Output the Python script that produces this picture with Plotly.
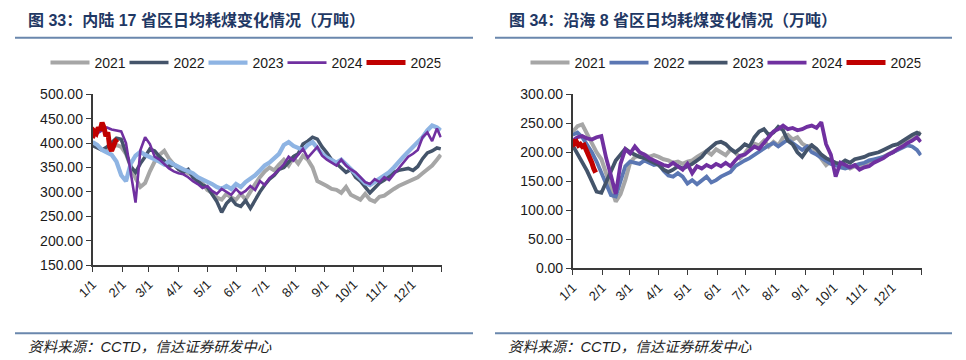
import plotly.graph_objects as go

W, H = 966, 360

# ---------------- data ----------------
DAYS = list(range(0, 361, 5)) + [364]
MONTH_TICKS = [0, 31, 59, 90, 120, 151, 181, 212, 243, 273, 304, 334, 365]
MONTH_LABELS = ["1/1", "2/1", "3/1", "4/1", "5/1", "6/1", "7/1", "8/1", "9/1", "10/1", "11/1", "12/1", ""]

# Chart 33: inland 17 provinces (10k t/day)
L21 = [398, 392, 386, 384, 390, 396, 392, 378, 352, 328, 310, 318, 342, 362, 376, 384, 368, 356, 350, 346,
       338, 334, 322, 318, 304, 298, 288, 284, 296, 288, 284, 296, 284, 302, 316, 330, 342, 350, 344, 356,
       366, 354, 370, 358, 374, 366, 350, 322, 318, 312, 306, 304, 298, 310, 294, 288, 284, 296, 284, 280,
       290, 292, 300, 306, 312, 316, 320, 326, 330, 338, 346, 354, 366, 376]
L22 = [395, 390, 386, 392, 402, 410, 408, 382, 352, 340, 358, 372, 388, 384, 372, 364, 352, 356, 346, 340,
       346, 330, 322, 314, 310, 296, 280, 258, 276, 286, 274, 270, 282, 266, 284, 300, 314, 326, 334, 346,
       350, 362, 372, 378, 398, 404, 412, 408, 392, 380, 366, 358, 348, 340, 346, 330, 322, 310, 298, 308,
       318, 324, 332, 340, 344, 346, 348, 344, 352, 368, 380, 384, 390, 388]
L23 = [402, 396, 386, 380, 376, 362, 334, 322, 358, 374, 382, 376, 372, 366, 362, 356, 362, 356, 350, 346,
       342, 338, 330, 326, 322, 316, 310, 306, 312, 306, 316, 310, 320, 326, 334, 344, 354, 360, 368, 378,
       396, 402, 394, 390, 386, 396, 402, 390, 378, 370, 364, 360, 366, 356, 346, 336, 326, 318, 314, 320,
       326, 332, 340, 350, 362, 372, 382, 392, 402, 412, 426, 436, 432, 426]
L24 = [412, 420, 426, 432, 428, 426, 424, 400, 340, 278, 385, 412, 398, 372, 366, 356, 348, 342, 338, 336,
       330, 322, 316, 308, 312, 302, 296, 306, 300, 294, 306, 296, 302, 312, 304, 322, 314, 328, 336, 346,
       356, 372, 364, 376, 388, 370, 382, 392, 374, 366, 360, 354, 366, 354, 346, 340, 330, 320, 316, 326,
       320, 330, 324, 336, 346, 360, 372, 378, 386, 412, 422, 404, 430, 412]
L25_DAYS = list(range(0, 27, 2))
L25 = [410, 424, 420, 432, 426, 442, 432, 414, 422, 392, 384, 398, 404, 408]

# Chart 34: coastal 8 provinces (10k t/day)
R21 = [235, 245, 248, 232, 215, 200, 188, 165, 140, 115, 128, 152, 182, 192, 194, 196, 192, 195, 192, 188,
       186, 182, 184, 180, 184, 186, 192, 198, 202, 196, 205, 200, 195, 205, 200, 190, 198, 210, 215, 212,
       220, 210, 218, 212, 225, 230, 222, 226, 215, 210, 212, 200, 190, 178, 185, 180, 175, 178, 172, 176,
       175, 180, 182, 185, 188, 192, 196, 200, 205, 212, 218, 225, 232, 235]
R22 = [230, 234, 226, 214, 200, 184, 164, 142, 126, 124, 150, 176, 184, 182, 180, 186, 182, 178, 180, 168,
       160, 158, 164, 158, 146, 152, 145, 152, 158, 148, 152, 158, 162, 166, 176, 182, 186, 190, 196, 200,
       206, 212, 216, 210, 216, 222, 216, 210, 204, 210, 200, 196, 190, 186, 180, 178, 174, 172, 175, 178,
       180, 182, 186, 188, 190, 192, 196, 200, 204, 208, 212, 210, 204, 195]
R23 = [212, 198, 184, 168, 150, 132, 130, 150, 170, 186, 196, 206, 200, 196, 192, 190, 186, 182, 178, 170,
       166, 170, 176, 172, 176, 180, 186, 192, 202, 210, 216, 218, 214, 206, 200, 206, 214, 210, 226, 236,
       240, 230, 234, 244, 238, 220, 214, 200, 192, 204, 212, 206, 196, 190, 186, 182, 180, 186, 182, 188,
       190, 192, 196, 198, 200, 204, 208, 212, 214, 220, 224, 230, 234, 230]
R24 = [220, 226, 228, 224, 222, 226, 228, 190, 160, 128, 180, 205, 198, 210, 200, 196, 190, 186, 182, 178,
       176, 182, 176, 170, 180, 164, 176, 172, 178, 174, 180, 176, 182, 176, 186, 194, 196, 202, 210, 206,
       216, 226, 236, 240, 246, 240, 242, 238, 240, 244, 246, 242, 252, 214, 196, 158, 182, 178, 174, 178,
       170, 174, 176, 182, 186, 190, 196, 200, 206, 210, 216, 220, 226, 218]
R25_DAYS = list(range(0, 25, 2))
R25 = [222, 215, 218, 212, 214, 210, 212, 205, 198, 190, 182, 172, 165]

YEARS = ["2021", "2022", "2023", "2024", "2025"]
LEFT_COLORS = ["#A6A6A6", "#44546A", "#8EB4E3", "#7030A0", "#C00000"]
RIGHT_COLORS = ["#A6A6A6", "#5B77B3", "#44546A", "#7030A0", "#C00000"]
LEFT_WIDTHS = [4, 3.5, 4.3, 2.6, 5]
RIGHT_WIDTHS = [4, 3.8, 3.8, 3.8, 5]

# ---------------- figure ----------------
def px(x):
    return x / W

def py(y):
    return 1 - y / H

fig = go.Figure()

left_series = [(DAYS, L21), (DAYS, L22), (DAYS, L23), (DAYS, L24), (L25_DAYS, L25)]
right_series = [(DAYS, R21), (DAYS, R22), (DAYS, R23), (DAYS, R24), (R25_DAYS, R25)]

for i, (xs, ys) in enumerate(left_series):
    fig.add_trace(go.Scatter(x=xs, y=ys, mode="lines", name=YEARS[i],
                             line=dict(color=LEFT_COLORS[i], width=LEFT_WIDTHS[i]),
                             xaxis="x", yaxis="y", legend="legend"))
for i, (xs, ys) in enumerate(right_series):
    fig.add_trace(go.Scatter(x=xs, y=ys, mode="lines", name=YEARS[i],
                             line=dict(color=RIGHT_COLORS[i], width=RIGHT_WIDTHS[i]),
                             xaxis="x2", yaxis="y2", legend="legend2"))

FONT = "Liberation Sans, Arial, Noto Sans CJK SC, sans-serif"
AX = "#3a3a3a"

xcommon = dict(range=[0, 365], tickmode="array", tickvals=MONTH_TICKS, ticktext=MONTH_LABELS,
               tickangle=-45, ticks="outside", ticklen=5, tickwidth=1.3, tickcolor=AX,
               showline=True, linecolor=AX, linewidth=1.5, showgrid=False, zeroline=False,
               tickfont=dict(size=13, color="#1a1a1a", family=FONT), fixedrange=True,
               automargin=False)
ycommon = dict(ticks="outside", ticklen=5, tickwidth=1.3, tickcolor=AX, showline=True,
               linecolor=AX, linewidth=1.5, showgrid=False, zeroline=False, tickformat=".2f",
               tickfont=dict(size=14, color="#1a1a1a", family=FONT), fixedrange=True,
               automargin=False)

LEG = dict(orientation="h", xanchor="center", y=py(63), yanchor="middle",
           font=dict(size=14, color="#1a1a1a", family=FONT), itemwidth=39,
           entrywidth=25, entrywidthmode="pixels",
           bgcolor="rgba(0,0,0,0)", traceorder="normal")

fig.update_layout(
    width=W, height=H, margin=dict(l=0, r=0, t=0, b=0, autoexpand=False),
    paper_bgcolor="white", plot_bgcolor="white",
    font=dict(family=FONT),
    xaxis=dict(domain=[px(92.5), px(441.7)], anchor="y", **xcommon),
    yaxis=dict(domain=[py(265), py(94.3)], anchor="x", range=[150, 500], dtick=50, **ycommon),
    xaxis2=dict(domain=[px(572.7), px(921.7)], anchor="y2", **xcommon),
    yaxis2=dict(domain=[py(268.3), py(94.3)], anchor="x2", range=[0, 300], dtick=50, **ycommon),
    legend=dict(x=px(243), **LEG),
    legend2=dict(x=px(723), **LEG),
    showlegend=True,
)

TITLE_COLOR = "#1F3864"
RULE_COLOR = "#6A87AD"
TFONT = "Liberation Sans, Noto Sans CJK SC, sans-serif"

fig.add_annotation(text="<b>图 33：内陆 17 省区日均耗煤变化情况（万吨）</b>", xref="paper", yref="paper",
                   x=px(26), y=py(20), xanchor="left", yanchor="middle", showarrow=False,
                   font=dict(size=16, color=TITLE_COLOR, family=TFONT))
fig.add_annotation(text="<b>图 34：沿海 8 省区日均耗煤变化情况（万吨）</b>", xref="paper", yref="paper",
                   x=px(507), y=py(20), xanchor="left", yanchor="middle", showarrow=False,
                   font=dict(size=16, color=TITLE_COLOR, family=TFONT))
for x0 in (26, 506):
    fig.add_annotation(text="<i>资料来源：CCTD，信达证券研发中心</i>", xref="paper", yref="paper",
                       x=px(x0), y=py(347), xanchor="left", yanchor="middle", showarrow=False,
                       font=dict(size=14.5, color="#222222", family=TFONT))

for (x0, x1) in ((15, 473), (495, 952)):
    for yy in (37.7, 333.3):
        fig.add_shape(type="line", xref="paper", yref="paper", x0=px(x0), x1=px(x1),
                      y0=py(yy), y1=py(yy), line=dict(color=RULE_COLOR, width=2))

fig.write_html("out.html", config={"displayModeBar": False},
               post_script="document.body.style.margin='0px';")
